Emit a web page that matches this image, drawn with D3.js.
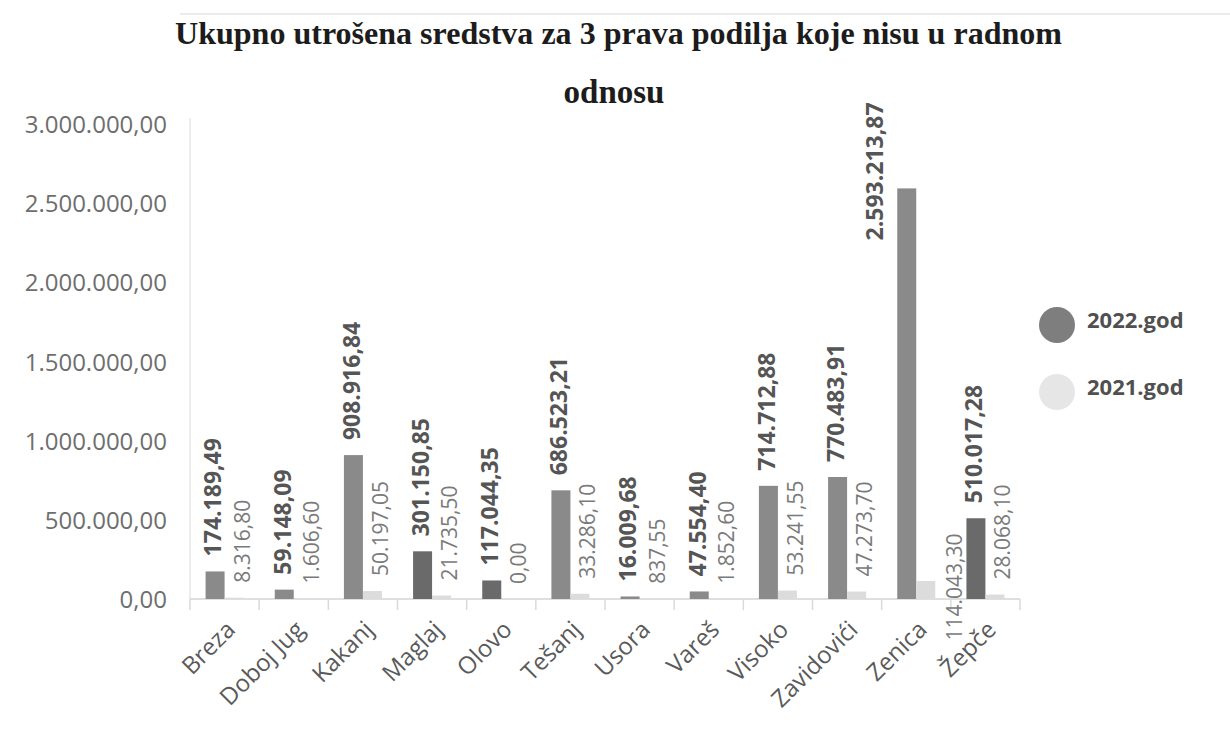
<!DOCTYPE html>
<html>
<head>
<meta charset="utf-8">
<script src="https://cdn.jsdelivr.net/npm/d3@7/dist/d3.min.js"></script>
<style>
  html, body { margin: 0; padding: 0; background: #ffffff; }
  svg { display: block; }
</style>
</head>
<body>
<svg id="chart" width="1230" height="737"></svg>
<script>
// ---- data ----
const categories = ["Breza", "Doboj Jug", "Kakanj", "Maglaj", "Olovo", "Tešanj", "Usora", "Vareš", "Visoko", "Zavidovići", "Zenica", "Žepče"];
const series = ["2022.god", "2021.god"];
const values2022 = [174189.49, 59148.09, 908916.84, 301150.85, 117044.35, 686523.21, 16009.68, 47554.40, 714712.88, 770483.91, 2593213.87, 510017.28];
const values2021 = [8316.80, 1606.60, 50197.05, 21735.50, 0.00, 33286.10, 837.55, 1852.60, 53241.55, 47273.70, 114043.30, 28068.10];
const yTicks = [0, 500000, 1000000, 1500000, 2000000, 2500000, 3000000];
const titleLines = ["Ukupno utrošena sredstva za 3 prava podilja koje nisu u radnom", "odnosu"];

// ---- style ----
const darkerBars = ["Maglaj", "Olovo", "Žepče"];
const colors = { "2022.god": "#8a8a8a", "2021.god": "#dcdcdc" };

const locale = d3.formatLocale({ decimal: ",", thousands: ".", grouping: [3], currency: ["", ""] });
const fmt = locale.format(",.2f");

const svg = d3.select("#chart");
svg.append("rect").attr("width", 1230).attr("height", 737).attr("fill", "#ffffff");

// faint scan line at top
svg.append("line").attr("x1", 180).attr("x2", 1230).attr("y1", 14).attr("y2", 14)
  .attr("stroke", "#e4e4e4").attr("stroke-width", 1.5);

// title
const title = svg.append("g").attr("font-family", "'Liberation Serif', 'Times New Roman', serif")
  .attr("font-weight", "bold").attr("fill", "#1c1c1c");
title.append("text").attr("x", 175).attr("y", 44).attr("font-size", 32)
  .attr("textLength", 887).attr("lengthAdjust", "spacingAndGlyphs").text(titleLines[0]);
title.append("text").attr("x", 614).attr("y", 103).attr("font-size", 33)
  .attr("text-anchor", "middle").text(titleLines[1]);

// scales
const plot = { left: 190, right: 1020, top: 124, bottom: 599 };
const x0 = d3.scaleBand().domain(categories).range([plot.left, plot.right]).paddingInner(0).paddingOuter(0);
const barW = 19;
const x1 = d3.scaleBand().domain(series)
  .range([x0.bandwidth() / 2 - barW, x0.bandwidth() / 2 + barW]).padding(0);
const y = d3.scaleLinear().domain([0, 3000000]).range([plot.bottom, plot.top]);

// y axis line
svg.append("line").attr("x1", plot.left).attr("x2", plot.left)
  .attr("y1", plot.top - 6).attr("y2", plot.bottom)
  .attr("stroke", "#e6e6e6").attr("stroke-width", 1.5);

// y axis labels
const yAxis = svg.append("g").attr("transform", `translate(${plot.left},0)`)
  .call(d3.axisLeft(y).tickValues(yTicks).tickFormat(fmt).tickSize(0).tickPadding(23));
yAxis.select(".domain").remove();
yAxis.selectAll("text").attr("font-family", "'Open Sans', sans-serif").attr("font-size", 24)
  .attr("fill", "#6e6e6e").attr("dy", "0.36em");

// x baseline + ticks at band boundaries
svg.append("line").attr("x1", plot.left).attr("x2", plot.right)
  .attr("y1", plot.bottom).attr("y2", plot.bottom)
  .attr("stroke", "#d4d4d4").attr("stroke-width", 1.5);
const boundaries = categories.map(c => x0(c)).concat([x0(categories[categories.length - 1]) + x0.bandwidth()]);
svg.append("g").selectAll("line").data(boundaries).join("line")
  .attr("x1", d => d).attr("x2", d => d).attr("y1", plot.bottom).attr("y2", plot.bottom + 11)
  .attr("stroke", "#dadada").attr("stroke-width", 1.5);

// bars
const rows = categories.map((c, i) => ({ cat: c, vals: [
  { s: "2022.god", v: values2022[i] }, { s: "2021.god", v: values2021[i] } ] }));
const groups = svg.append("g").selectAll("g").data(rows).join("g")
  .attr("transform", d => `translate(${x0(d.cat)},0)`);
groups.selectAll("rect").data(d => d.vals.map(v => Object.assign({ cat: d.cat }, v))).join("rect")
  .attr("x", d => x1(d.s)).attr("width", x1.bandwidth())
  .attr("y", d => y(d.v)).attr("height", d => y(0) - y(d.v))
  .attr("fill", d => (d.s === "2022.god" && darkerBars.includes(d.cat)) ? "#6a6a6a" : colors[d.s]);

// value labels 2022 (Zenica label was moved beside its bar in the original)
groups.append("text")
  .attr("transform", d => {
    const cx = x1("2022.god") + x1.bandwidth() / 2;
    if (d.cat === "Zenica") return `translate(${cx - 32},${y(d.vals[0].v) - 17}) rotate(-90)`;
    return `translate(${cx - 2},${y(d.vals[0].v) - 15}) rotate(-90)`;
  })
  .attr("text-anchor", d => d.cat === "Zenica" ? "middle" : "start")
  .attr("dy", "0.36em")
  .attr("font-family", "'Open Sans', sans-serif").attr("font-weight", "bold").attr("font-size", 23)
  .attr("fill", "#555555")
  .text(d => fmt(d.vals[0].v));

// value labels 2021
groups.append("text")
  .attr("transform", d => {
    if (d.cat === "Zenica") {
      return `translate(${x0.bandwidth() / 2 + 38},${y(0) - 12}) rotate(-90)`;
    }
    return `translate(${x1("2021.god") + x1.bandwidth() / 2 + 8},${y(d.vals[1].v) - 15}) rotate(-90)`;
  })
  .attr("text-anchor", d => d.cat === "Zenica" ? "middle" : "start")
  .attr("dy", "0.36em")
  .attr("font-family", "'Open Sans', sans-serif").attr("font-size", 21)
  .attr("fill", "#7a7a7a")
  .text(d => fmt(d.vals[1].v));

// category labels
svg.append("g").selectAll("text").data(categories).join("text")
  .attr("transform", d => `translate(${x0(d) + x0.bandwidth() / 2 + 6},${plot.bottom + 26}) rotate(-45)`)
  .attr("text-anchor", "end").attr("dy", "0.36em")
  .attr("font-family", "'Open Sans', sans-serif").attr("font-size", 24)
  .attr("fill", "#5a5a5a")
  .text(d => d);

// legend
const legend = svg.append("g").selectAll("g").data(series).join("g")
  .attr("transform", (d, i) => `translate(1057,${325 + i * 67})`);
legend.append("circle").attr("r", 18).attr("fill", d => d === "2022.god" ? "#7e7e7e" : "#e6e6e6");
legend.append("text").attr("x", 30).attr("y", -5).attr("dy", "0.36em")
  .attr("font-family", "'Open Sans', sans-serif").attr("font-weight", "bold").attr("font-size", 22)
  .attr("fill", "#505050").text(d => d);
</script>
</body>
</html>
